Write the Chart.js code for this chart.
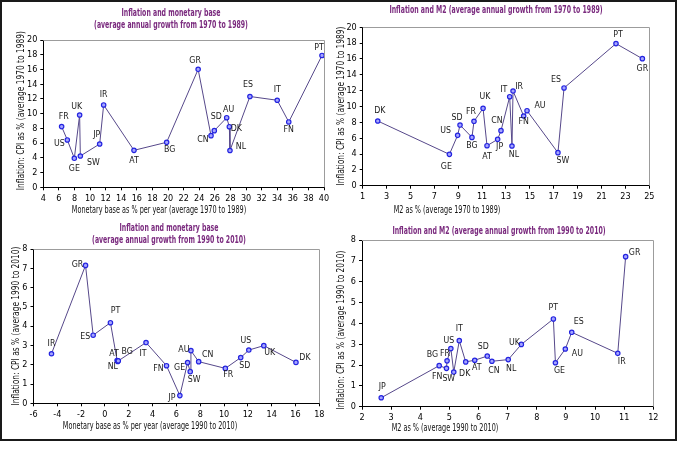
<!DOCTYPE html>
<html><head><meta charset="utf-8">
<script src="https://cdn.jsdelivr.net/npm/chart.js@4.4.0/dist/chart.umd.min.js"></script>
<style>
html,body{margin:0;padding:0;background:#fff;width:680px;height:450px;overflow:hidden}
.frame{position:absolute;left:0;top:0;width:677px;height:441px;border:2px solid #1a1a1a;box-sizing:border-box;pointer-events:none}
.cv{position:absolute}
canvas{display:block}
</style></head><body>
<div class="cv" style="left:0;top:0"><canvas id="c1" width="336" height="216"></canvas></div>
<div class="cv" style="left:336px;top:0"><canvas id="c2" width="344" height="216"></canvas></div>
<div class="cv" style="left:0;top:216px"><canvas id="c3" width="336" height="234"></canvas></div>
<div class="cv" style="left:336px;top:216px"><canvas id="c4" width="344" height="234"></canvas></div>
<div class="frame"></div>
<script>
// ---------- DATA ----------
// Panel 1: monetary base vs inflation, 1970-1989
const codes1 = ['FR','US','GE','UK','SW','JP','IR','AT','BG','GR','CN','SD','AU','DK','NL','ES','IT','FN','PT'];
const mb7089 = [6.35,7.08,7.98,8.66,8.75,11.23,11.74,15.63,19.82,23.86,25.51,25.93,27.52,27.86,27.94,30.5,34.0,35.48,39.74];
const cpi1_7089 = [8.24,6.43,3.94,9.82,4.25,5.88,11.18,5.02,6.11,16.02,7.01,7.69,9.45,8.23,5.0,12.33,11.82,8.87,17.9];

// Panel 2: M2 vs inflation, 1970-1989
const codes2 = ['DK','GE','US','SD','BG','FR','UK','AT','JP','CN','IT','NL','IR','FN','AU','SW','ES','PT','GR'];
const m2_7089 = [2.26,8.26,8.95,9.15,10.15,10.32,11.08,11.41,12.3,12.58,13.31,13.5,13.59,14.48,14.76,17.35,17.86,22.21,24.42];
const cpi2_7089 = [8.17,3.96,6.36,7.66,6.1,8.13,9.77,5.05,5.85,6.95,11.24,5.01,11.96,8.8,9.47,4.17,12.34,17.94,16.04];

// Panel 3: monetary base vs inflation, 1990-2010
const codes3 = ['IR','GR','ES','PT','AT','NL','BG','IT','FN','JP','GE','SW','AU','CN','FR','SD','US','UK','DK'];
const mb9010 = [-4.49,-1.63,-0.99,0.46,1.02,1.08,1.12,3.45,5.17,6.29,6.94,7.16,7.22,7.87,10.11,11.4,12.08,13.34,16.04];
const cpi3_9010 = [2.57,7.15,3.53,4.18,2.22,2.17,2.2,3.15,1.95,0.4,2.11,1.64,2.73,2.16,1.81,2.37,2.76,2.99,2.12];

// Panel 4: M2 vs inflation, 1990-2010
const codes4 = ['JP','FN','BG','FR','US','SW','IT','DK','AT','SD','CN','NL','UK','PT','GE','AU','ES','IR','GR'];
const m2_9010 = [2.66,4.65,4.9,4.92,5.05,5.15,5.34,5.56,5.87,6.3,6.46,7.02,7.47,8.57,8.64,8.98,9.2,10.78,11.05];
const cpi4_9010 = [0.43,1.97,1.84,2.2,2.79,1.66,3.17,2.15,2.23,2.43,2.18,2.26,2.99,4.21,2.11,2.77,3.57,2.56,7.2];

// ---------- label placement (pixel offsets from each point) ----------
const off1 = [[2,-10],[-8,4],[0,10],[-3,-8],[13,7],[-3,-9],[0,-10],[0,10],[3,7],[-3,-9],[-8,4],[2,-14],[2,-8],[7,2],[11,-4],[-2,-12],[0,-11],[0,8],[-3,-8]];
const off2 = [[2,-10],[-3,12],[-12,-5],[-3,-8],[0,8],[-3,-10],[2,-12],[0,11],[2,7],[-4,-10],[-6,-7],[2,9],[6,-4],[0,6],[13,-5],[5,8],[-8,-8],[2,-9],[0,10]];
const off3 = [[0,-10],[-8,-1],[-8,1],[5,-12],[-3,-7],[-5,5],[9,-9],[-3,11],[-8,3],[-8,2],[-8,5],[4,8],[-7,-1],[9,-7],[3,6],[4,8],[-3,-10],[6,7],[9,-5]];
const off4 = [[1,-11],[-2,11],[-14,-14],[-2,-7],[-2,-8],[-5,6],[0,-12],[-1,12],[2,7],[-4,-10],[2,9],[3,9],[-7,-2],[0,-11],[4,8],[12,5],[7,-11],[4,8],[9,-4]];

const FONT = '"Liberation Sans Narrow","DejaVu Sans Condensed","Arial Narrow",Arial,sans-serif';
const TITLE_COLOR = '#7a2a7e';

function squeezeText(ctx, txt, x, y, sx, rot){
  ctx.save();
  ctx.translate(x, y);
  if (rot) ctx.rotate(rot);
  ctx.scale(sx, 1);
  ctx.fillText(txt, 0, 0);
  ctx.restore();
}

function makePanel(cfg){
  const cv = document.getElementById(cfg.id);
  const W = cv.width, H = cv.height;
  const pts = cfg.xs.map((x,i)=>({x:x, y:cfg.ys[i]}));
  const textPlugin = {
    id:'txt_'+cfg.id,
    afterDatasetsDraw(chart){
      const ctx = chart.ctx, a = chart.chartArea;
      ctx.save();
      ctx.strokeStyle = '#9c9c9c'; ctx.lineWidth = 1;
      ctx.beginPath();
      ctx.moveTo(a.left, Math.round(a.top)+0.5);
      ctx.lineTo(Math.round(a.right)+0.5, Math.round(a.top)+0.5);
      ctx.lineTo(Math.round(a.right)+0.5, a.bottom);
      ctx.stroke();
      const meta = chart.getDatasetMeta(0);
      ctx.font = '9.5px '+FONT; ctx.fillStyle = '#1a1a1a';
      ctx.textAlign = 'center'; ctx.textBaseline = 'middle';
      meta.data.forEach((el,i)=>{
        squeezeText(ctx, cfg.codes[i], el.x + cfg.off[i][0], el.y + cfg.off[i][1], 0.92, 0);
      });
      // titles
      ctx.font = 'bold 10px '+FONT; ctx.fillStyle = TITLE_COLOR;
      cfg.titles.forEach(t=>squeezeText(ctx, t[0], t[1]-cfg.left, t[2]-cfg.top, 0.69, 0));
      // axis titles
      ctx.font = '10px '+FONT; ctx.fillStyle = '#111';
      squeezeText(ctx, cfg.xTitle[0], cfg.xTitle[1]-cfg.left, cfg.xTitle[2]-cfg.top, 0.72, 0);
      squeezeText(ctx, cfg.yTitle[0], cfg.yTitle[1]-cfg.left, cfg.yTitle[2]-cfg.top, 0.83, -Math.PI/2);
      ctx.restore();
    }
  };
  const axisCommon = {
    type:'linear',
    grid:{display:true, drawOnChartArea:false, drawTicks:true, tickLength:3, color:'#000', lineWidth:1},
    border:{display:true, color:'#000', width:1},
  };
  new Chart(cv, {
    type:'line',
    data:{datasets:[{
      data:pts, showLine:true, borderColor:'#56488a', borderWidth:1,
      pointRadius:2.2, pointHoverRadius:2.2, pointBackgroundColor:'#a5a5ff',
      pointBorderColor:'#2424e0', pointBorderWidth:1.2, tension:0, fill:false
    }]},
    options:{
      responsive:false, animation:false, events:[],
      layout:{padding:{left:0, top:cfg.plot[1]-cfg.top, right:(cfg.left+W)-cfg.plot[2], bottom:0}},
      plugins:{legend:{display:false}, tooltip:{enabled:false}, title:{display:false}},
      scales:{
        x:Object.assign({}, axisCommon, {
          position:'bottom', min:cfg.xr[0], max:cfg.xr[1],
          ticks:{stepSize:cfg.xr[2], autoSkip:false, maxRotation:0, color:'#000', padding:3, font:{size:9, family:FONT}},
          afterFit(s){ s.height = (cfg.top+H) - cfg.plot[3]; }
        }),
        y:Object.assign({}, axisCommon, {
          position:'left', min:cfg.yr[0], max:cfg.yr[1],
          ticks:{stepSize:cfg.yr[2], autoSkip:false, color:'#000', padding:3, font:{size:9, family:FONT}},
          afterFit(s){ s.width = cfg.plot[0] - cfg.left; }
        })
      }
    },
    plugins:[textPlugin]
  });
}

makePanel({id:'c1', left:0, top:0, plot:[43.3,40,324,187.3],
  xs:mb7089, ys:cpi1_7089, codes:codes1, off:off1, xr:[4,40,2], yr:[0,20,2],
  titles:[['Inflation and monetary base',171,13.3],['(average annual growth from 1970 to 1989)',171,25]],
  xTitle:['Monetary base as % per year (average 1970 to 1989)',159,210.5],
  yTitle:['Inflation: CPI as % (average 1970 to 1989)',21.7,110.7]});

makePanel({id:'c2', left:336, top:0, plot:[362.7,27.3,649.3,185.7],
  xs:m2_7089, ys:cpi2_7089, codes:codes2, off:off2, xr:[1,25,2], yr:[0,20,2],
  titles:[['Inflation and M2 (average annual growth from 1970 to 1989)',496,10]],
  xTitle:['M2 as % (average 1970 to 1989)',447,210.5],
  yTitle:['Inflation: CPI as % (average 1970 to 1989)',341,106]});

makePanel({id:'c3', left:0, top:216, plot:[33.5,249,319.3,403.3],
  xs:mb9010, ys:cpi3_9010, codes:codes3, off:off3, xr:[-6,18,2], yr:[0,8,1],
  titles:[['Inflation and monetary base',169,228],['(average annual growth from 1990 to 2010)',169,240]],
  xTitle:['Monetary base as % per year (average 1990 to 2010)',150,426.7],
  yTitle:['Inflation: CPI as % (average 1990 to 2010)',16.7,326]});

makePanel({id:'c4', left:336, top:216, plot:[362,240,653.3,406.7],
  xs:m2_9010, ys:cpi4_9010, codes:codes4, off:off4, xr:[2,12,1], yr:[0,8,1],
  titles:[['Inflation and M2 (average annual growth from 1990 to 2010)',499,231]],
  xTitle:['M2 as % (average 1990 to 2010)',445,428.3],
  yTitle:['Inflation: CPI as % (average 1990 to 2010)',341,330]});
</script>
</body></html>
